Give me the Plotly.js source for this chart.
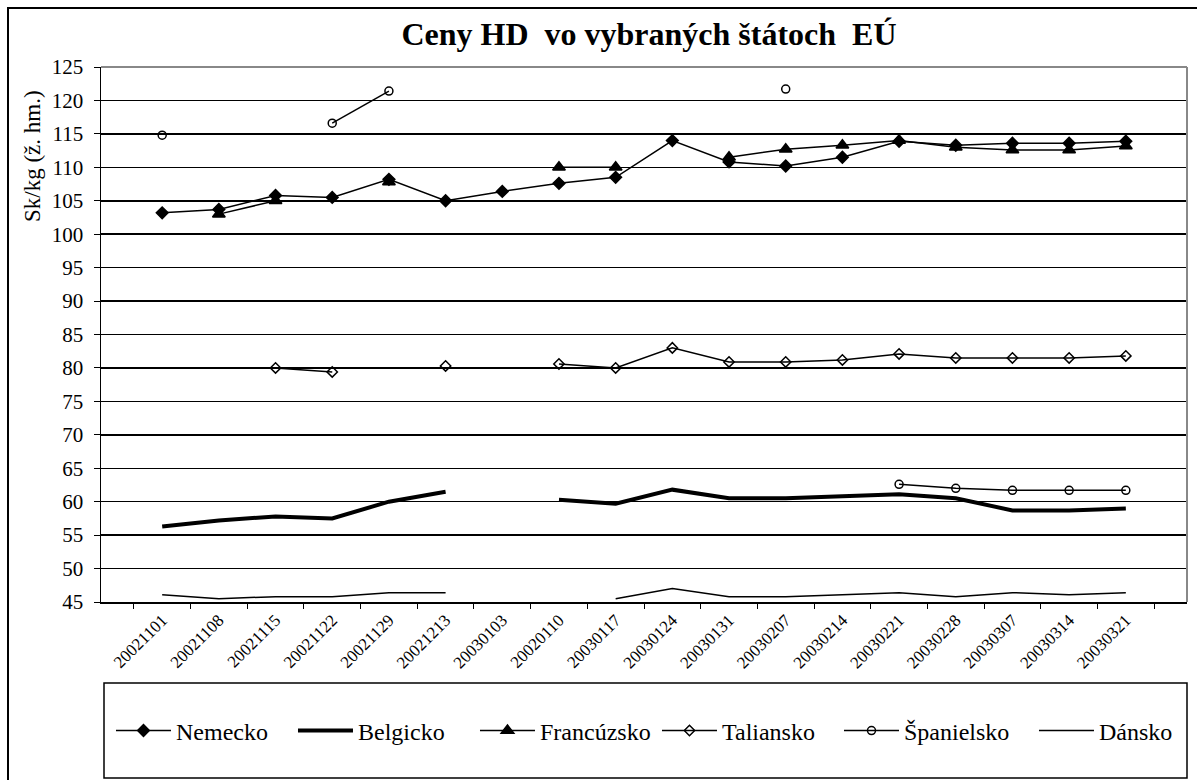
<!DOCTYPE html>
<html>
<head>
<meta charset="utf-8">
<script src="https://cdn.plot.ly/plotly-3.0.1.min.js"></script>
<style>
  body { margin: 0; background: #fff; }
  #chart { width: 1197px; height: 780px; }
</style>
</head>
<body>
<div id="chart"></div>
<script>
var dates = ['20021101', '20021108', '20021115', '20021122', '20021129', '20021213',
             '20030103', '20020110', '20030117', '20030124', '20030131', '20030207',
             '20030214', '20030221', '20030228', '20030307', '20030314', '20030321'];

var nemecko    = [103.2, 103.7, 105.8, 105.5, 108.2, 105.0, 106.4, 107.6, 108.5, 114.0, 110.8, 110.2, 111.5, 113.9, 113.3, 113.6, 113.6, 113.9];
var belgicko   = [56.3, 57.2, 57.8, 57.5, 60.0, 61.5, null, 60.3, 59.7, 61.8, 60.5, 60.5, 60.8, 61.1, 60.5, 58.7, 58.7, 59.0];
var francuzsko = [null, 103.0, 105.0, null, 107.8, null, null, 110.0, 110.0, null, 111.5, 112.7, 113.3, 114.0, 113.0, 112.6, 112.6, 113.2];
var taliansko  = [null, null, 80.0, 79.4, null, 80.3, null, 80.6, 80.0, 83.0, 80.9, 80.9, 81.2, 82.1, 81.5, 81.5, 81.5, 81.8];
var spanielsko = [114.8, null, null, 116.6, 121.4, null, null, null, null, null, null, 121.7, null, 62.6, 62.0, 61.7, 61.7, 61.7];
var dansko     = [46.1, 45.5, 45.8, 45.8, 46.4, 46.4, null, null, 45.5, 47.0, 45.8, 45.8, 46.1, 46.4, 45.8, 46.4, 46.1, 46.4];

var serif = 'Liberation Serif';

function series(name, y, lineWidth, symbol, size) {
    var t = {
        x: dates,
        y: y,
        name: name,
        type: 'scatter',
        mode: symbol ? 'lines+markers' : 'lines',
        line: { color: 'black', width: lineWidth },
        connectgaps: false
    };
    if (symbol) {
        t.marker = { symbol: symbol, size: size, color: 'black', line: { color: 'black', width: 1.5 } };
    }
    return t;
}

var danskoTrace = series('Dánsko', dansko, 1.5, null);
danskoTrace.legend = 'legend2';   // own legend so it can sit at the far right like in Excel

var traces = [
    series('Nemecko', nemecko, 1.5, 'diamond', 9),
    series('Belgicko', belgicko, 4, null),
    series('Francúzsko', francuzsko, 1.5, 'triangle-up', 11),
    series('Taliansko', taliansko, 1.5, 'diamond-open', 8),
    series('Španielsko', spanielsko, 1.5, 'circle-open', 8),
    danskoTrace
];

var legendStyle = {
    orientation: 'h',
    xanchor: 'left',
    y: -0.241, yanchor: 'middle',
    font: { family: serif, size: 24, color: 'black' },
    itemwidth: 55,
    entrywidth: 112,
    entrywidthmode: 'pixels',
    bgcolor: 'rgba(0,0,0,0)',
    borderwidth: 0
};

var layout = {
    width: 1197,
    height: 780,
    margin: { l: 101, r: 10, t: 67, b: 178, autoexpand: false },
    paper_bgcolor: 'white',
    plot_bgcolor: 'white',
    font: { family: serif, color: 'black' },
    showlegend: true,
    title: {
        text: '<b>Ceny HD  vo vybraných štátoch  EÚ</b>',
        font: { family: serif, size: 32, color: 'black' },
        x: 0.5046, xref: 'paper', xanchor: 'center',
        y: 44, yref: 'container', yanchor: 'middle'
    },
    xaxis: {
        type: 'category',
        tickangle: -45,
        tickson: 'boundaries',
        ticks: 'outside',
        ticklen: 5,
        tickcolor: 'black',
        showgrid: false,
        showline: true,
        linecolor: 'black',
        linewidth: 1.5,
        tickfont: { family: serif, size: 17, color: 'black' },
        fixedrange: true
    },
    yaxis: {
        range: [45, 125],
        dtick: 5,
        tick0: 45,
        ticks: 'outside',
        ticklen: 6,
        tickcolor: 'black',
        ticklabelstandoff: 6,
        showgrid: true,
        gridcolor: 'black',
        gridwidth: 1.5,
        zeroline: false,
        showline: true,
        linecolor: 'black',
        linewidth: 1.5,
        tickfont: { family: serif, size: 21, color: 'black' },
        fixedrange: true
    },
    legend: Object.assign({}, legendStyle, { x: 0.0092 }),
    legend2: Object.assign({}, legendStyle, { x: 0.8591, entrywidth: 0 }),
    annotations: [{
        text: 'Sk/kg (ž. hm.)',
        xref: 'paper', yref: 'paper',
        x: (32 - 101) / 1086, y: (602 - 156) / 535,
        xanchor: 'center', yanchor: 'middle',
        textangle: -90,
        showarrow: false,
        font: { family: serif, size: 23, color: 'black' }
    }],
    shapes: [
        // outer chart frame
        { type: 'rect', xref: 'paper', yref: 'paper',
          x0: (8 - 101) / 1086, x1: 1.03, y0: -0.36, y1: (602 - 8) / 535,
          line: { color: 'black', width: 2 }, layer: 'below' },
        // gray plot border top/right
        { type: 'line', xref: 'paper', yref: 'paper', x0: 0, x1: 1, y0: 1, y1: 1,
          line: { color: '#888', width: 2 } },
        { type: 'line', xref: 'paper', yref: 'paper', x0: 1, x1: 1, y0: 0, y1: 1,
          line: { color: '#888', width: 2 } },
        // legend box
        { type: 'rect', xref: 'paper', yref: 'paper',
          x0: (104 - 101) / 1086, x1: 1, y0: (602 - 778) / 535, y1: (602 - 683) / 535,
          line: { color: 'black', width: 1.5 } }
    ]
};

Plotly.newPlot('chart', traces, layout, { displayModeBar: false, staticPlot: true });
</script>
</body>
</html>
